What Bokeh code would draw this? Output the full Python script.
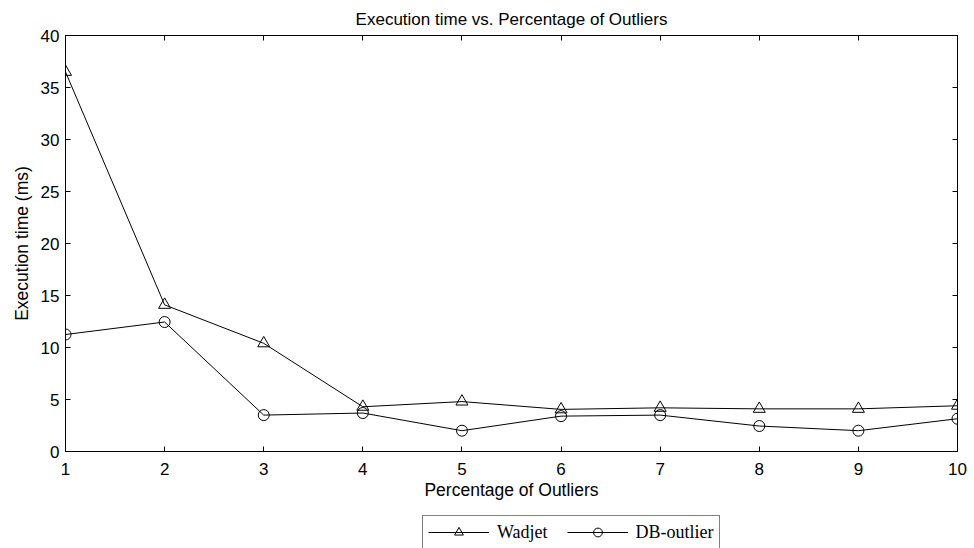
from bokeh.plotting import figure
from bokeh.layouts import column
from bokeh.models import Range1d, FixedTicker, LinearAxis, Legend, LegendItem
from bokeh.embed import file_html
from bokeh.resources import INLINE

pct = [1, 2, 3, 4, 5, 6, 7, 8, 9, 10]
wadjet = [36.5, 14.1, 10.4, 4.3, 4.8, 4.05, 4.2, 4.1, 4.1, 4.4]
db_outlier = [11.25, 12.45, 3.5, 3.7, 2.0, 3.4, 3.5, 2.45, 2.0, 3.15]
x_ticks = [1, 2, 3, 4, 5, 6, 7, 8, 9, 10]
y_ticks = [0, 5, 10, 15, 20, 25, 30, 35, 40]

p = figure(frame_width=892, frame_height=416, output_backend="svg", toolbar_location=None,
           x_range=Range1d(1, 10), y_range=Range1d(0, 40),
           title="Execution time vs. Percentage of Outliers",
           min_border_left=65, min_border_right=17, min_border_top=33,
           min_border_bottom=0)
p.title.align = "center"
p.title.text_font = "Liberation Sans"
p.title.text_font_style = "normal"
p.title.text_font_size = "17px"
p.title.text_color = "black"
p.title.standoff = 14
p.grid.visible = False
p.outline_line_color = "black"
p.outline_line_width = 1

for ax in [p.xaxis[0], p.yaxis[0]]:
    ax.major_tick_in = 5
    ax.major_tick_out = 0
    ax.minor_tick_in = 0
    ax.minor_tick_out = 0
    ax.axis_line_color = "black"
    ax.major_label_text_font = "Liberation Sans"
    ax.major_label_text_font_size = "17px"
    ax.major_label_text_color = "black"
    ax.axis_label_text_font = "Liberation Sans"
    ax.axis_label_text_font_size = "17.5px"
    ax.axis_label_text_font_style = "normal"
    ax.axis_label_text_color = "black"
p.xaxis[0].ticker = FixedTicker(ticks=x_ticks)
p.yaxis[0].ticker = FixedTicker(ticks=y_ticks)
p.xaxis[0].axis_label = "Percentage of Outliers"
p.yaxis[0].axis_label = "Execution time (ms)"
p.xaxis[0].axis_label_standoff = 2
p.yaxis[0].axis_label_standoff = 6
p.xaxis[0].major_label_standoff = 11
p.yaxis[0].major_label_standoff = 6

top = LinearAxis(ticker=FixedTicker(ticks=x_ticks), major_tick_in=5, major_tick_out=0,
                 minor_tick_in=0, minor_tick_out=0, major_label_text_color=None,
                 major_label_text_font_size="1px", axis_line_color="black",
                 major_label_standoff=0)
right = LinearAxis(ticker=FixedTicker(ticks=y_ticks), major_tick_in=5, major_tick_out=0,
                   minor_tick_in=0, minor_tick_out=0, major_label_text_color=None,
                   major_label_text_font_size="1px", axis_line_color="black",
                   major_label_standoff=0)
p.add_layout(top, "above")
p.add_layout(right, "right")

p.line(pct, wadjet, line_color="black", line_width=1)
p.scatter(pct, wadjet, marker="triangle", size=12, fill_color=None,
          line_color="black", line_width=1)
p.line(pct, db_outlier, line_color="black", line_width=1)
p.scatter(pct, db_outlier, marker="circle", size=11, fill_color=None,
          line_color="black", line_width=1)

# separate strip for the legend, below the chart (its renderers lie outside its view)
lg = figure(width=974, height=49, output_backend="svg", toolbar_location=None,
            x_axis_location=None, y_axis_location=None,
            x_range=Range1d(1, 10), y_range=Range1d(100, 101),
            min_border=0, outline_line_color=None)
lg.grid.visible = False
a1 = lg.line(pct, wadjet, line_color="black", line_width=1)
b1 = lg.scatter(pct, wadjet, marker="triangle", size=12, fill_color=None,
                line_color="black", line_width=1)
a2 = lg.line(pct, db_outlier, line_color="black", line_width=1)
b2 = lg.scatter(pct, db_outlier, marker="circle", size=11, fill_color=None,
                line_color="black", line_width=1)

legend = Legend(items=[LegendItem(label="Wadjet", renderers=[a1, b1]),
                       LegendItem(label="DB-outlier", renderers=[a2, b2])],
                orientation="horizontal", location=(357, 2),
                label_text_font="Liberation Serif", label_text_font_size="18px",
                label_text_color="black",
                glyph_width=61, glyph_height=22, label_height=22,
                spacing=19, padding=5, margin=0,
                border_line_color="black", border_line_width=1,
                label_standoff=8)
lg.add_layout(legend, "center")

layout = column(p, lg, spacing=0)
open("out.html", "w").write(file_html(layout, INLINE))
